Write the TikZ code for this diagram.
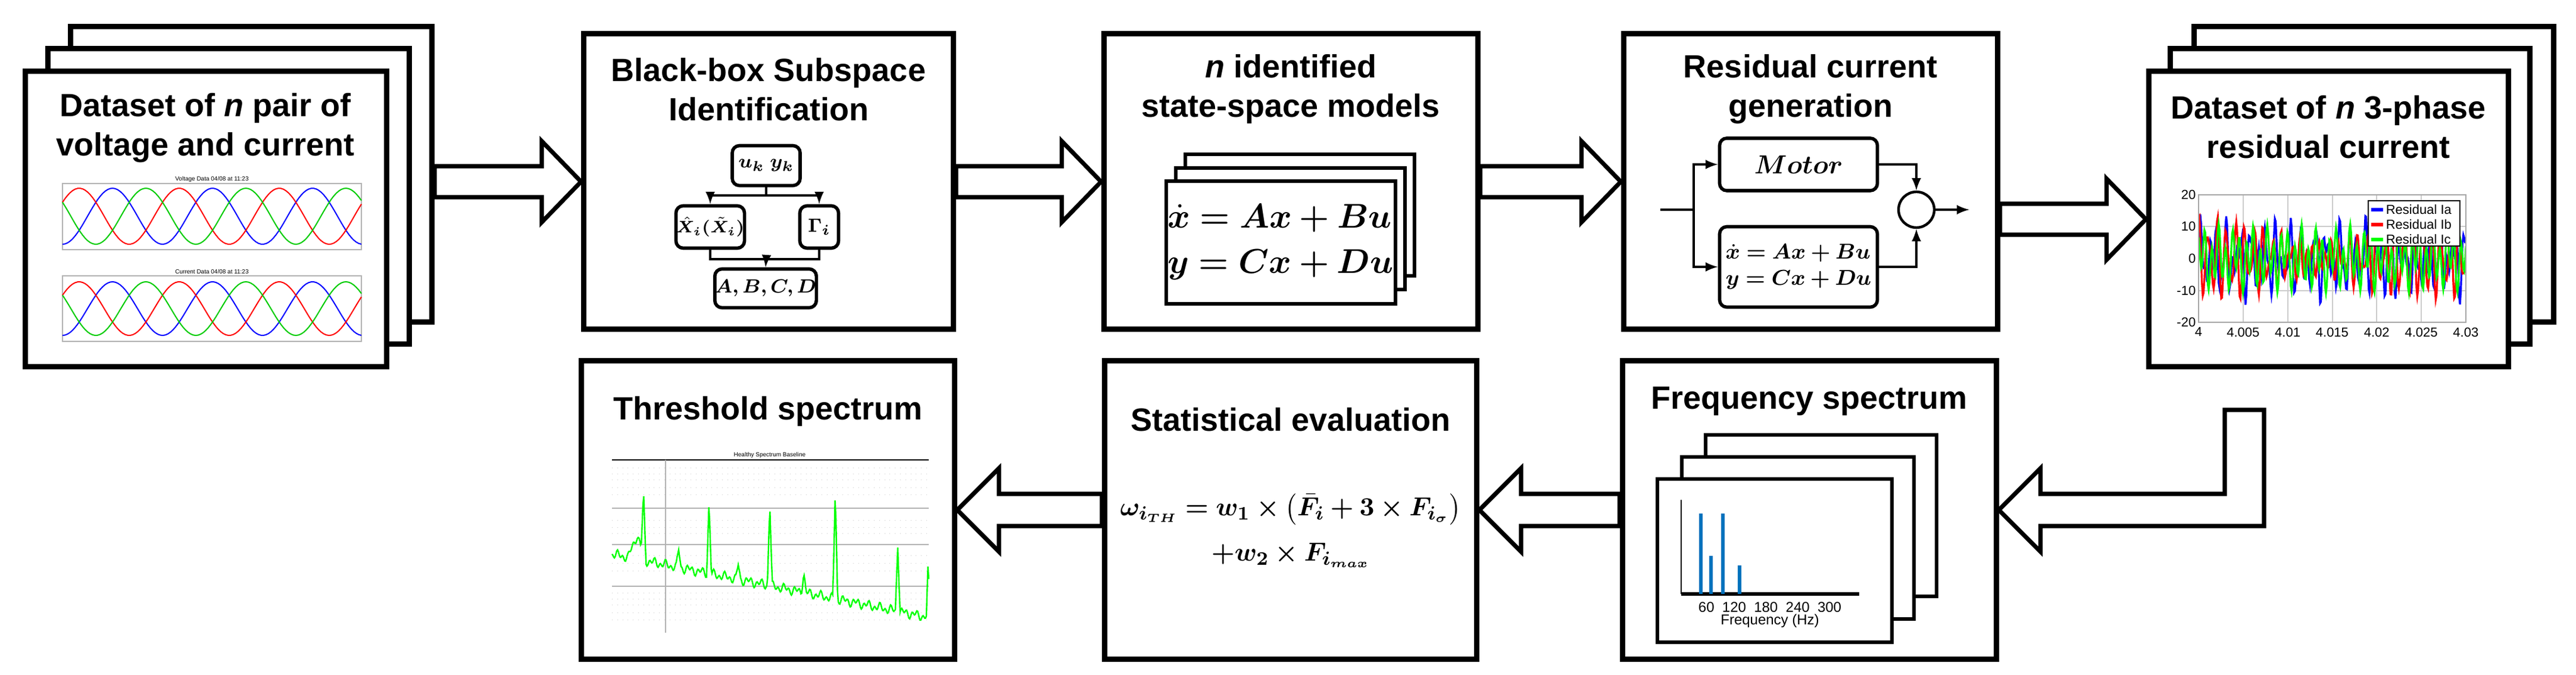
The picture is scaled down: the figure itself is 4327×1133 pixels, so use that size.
\documentclass[tikz,border=0pt]{standalone}
\usepackage{fontspec}
\usepackage{amsmath,bm}
\setmainfont{Liberation Sans}
\usetikzlibrary{calc}
\newcommand\rarrow[2]{\draw[blk] let \p1=(#1), \p2=(#2) in (\x1,\y2+6.5pt) -- (\x2-16.5pt,\y2+6.5pt) -- (\x2-16.5pt,\y2+17pt) -- (\x2,\y2) -- (\x2-16.5pt,\y2-17pt) -- (\x2-16.5pt,\y2-6.5pt) -- (\x1,\y2-6.5pt) -- cycle;}
\newcommand\larrow[2]{\draw[blk] let \p1=(#1), \p2=(#2) in (\x1,\y2+6.75pt) -- (\x2+17.5pt,\y2+6.75pt) -- (\x2+17.5pt,\y2+17.5pt) -- (\x2,\y2) -- (\x2+17.5pt,\y2-17.5pt) -- (\x2+17.5pt,\y2-6.75pt) -- (\x1,\y2-6.75pt) -- cycle;}
\tikzset{
  x=0.25pt,y=-0.25pt,
  box/.style={draw,line width=2.25pt,fill=white,minimum width={#1*0.25pt},inner sep=0pt},
  box/.default=627,
  sheet/.style={draw,line width=2.25pt,fill=white,minimum width={#1*0.25pt},minimum height=124pt,inner sep=0pt},
  blk/.style={draw,line width=1.8pt,fill=white,line join=miter},
  ttl/.style={font=\bfseries\fontsize{13.5}{16.5}\selectfont,align=center},
  rnd/.style={draw,line width=1.4pt,rounded corners=3pt,fill=white,inner sep=0pt},
  con/.style={line width=0.8pt},
  arr/.style={con,-latex},
  tick/.style={font=\fontsize{5.5}{6}\selectfont,inner sep=1pt},
  small/.style={draw,line width=1.5pt,fill=white,inner sep=0pt},
}
\begin{document}
\begin{tikzpicture}
\useasboundingbox (0,0) rectangle (4327,1133);
% ---------- Box 1 stack
\node[sheet=607] (d1c) at (422,293) {};
\node[sheet=607] (d1b) at (384,330) {};
\node[sheet=607] (d1) at (346,368) {};
\node[ttl] (t1) at (345,215) {Dataset of \textit{n} pair of\\voltage and current};
% voltage plot
\draw[gray!60,line width=0.3pt] (105,308) rectangle (607,419);
\draw[blue,line width=0.5pt] plot[domain=0:502,samples=120] (105+\x,{363-47*sin(\x/168*360-90)});
\draw[red,line width=0.5pt] plot[domain=0:502,samples=120] (105+\x,{363-47*sin(\x/168*360+30)});
\draw[green!80!black,line width=0.5pt] plot[domain=0:502,samples=120] (105+\x,{363-47*sin(\x/168*360+150)});
\node[font=\fontsize{2.5}{3}\selectfont,inner sep=0] (vt) at (356,301) {Voltage Data 04/08 at 11:23};
% current plot
\draw[gray!60,line width=0.3pt] (105,463) rectangle (607,573);
\draw[blue,line width=0.5pt] plot[domain=0:502,samples=120] (105+\x,{518-45*sin(\x/168*360-90)});
\draw[red,line width=0.5pt] plot[domain=0:502,samples=120] (105+\x,{518-45*sin(\x/168*360+30)});
\draw[green!80!black,line width=0.5pt] plot[domain=0:502,samples=120] (105+\x,{518-45*sin(\x/168*360+150)});
\node[font=\fontsize{2.5}{3}\selectfont,inner sep=0] (ct) at (356,456) {Current Data 04/08 at 11:23};
% ---------- Box 2
\node[box=621,minimum height=124pt] (b2) at (1291,305) {};
\node[ttl] (t2) at (1291,150) {Black-box Subspace\\Identification};
\node[rnd,minimum width=28.5pt,minimum height=16.75pt,font=\fontsize{8.5}{10}\selectfont] (uk) at (1287,278) {$\bm{u_k\ y_k}$};
\node[rnd,minimum width=27.75pt,minimum height=17.75pt,font=\fontsize{7}{8}\selectfont] (xh) at (1193,381) {$\bm{\hat{X}_i(\tilde{X}_i)}$};
\node[rnd,minimum width=16.25pt,minimum height=17.75pt,font=\fontsize{8.5}{10}\selectfont] (gm) at (1376,381) {$\bm{\Gamma_i}$};
\node[rnd,minimum width=36pt,minimum height=16.25pt,font=\fontsize{8}{10}\selectfont] (ab) at (1286,484) {$\bm{A,B,C,D}$};
\coordinate (j1) at (1287,328);
\coordinate (j2) at (1287,435);
\draw[con] (uk.south) -- (j1);
\draw[arr] (j1) -| (xh.north);
\draw[arr] (j1) -| (gm.north);
\draw[con] (xh.south) |- (j2);
\draw[con] (gm.south) |- (j2);
\draw[arr] (j2) -- (ab.north);
% ---------- Box 3
\node[box=628,minimum height=124pt] (b3) at (2168,305) {};
\node[ttl] (t3) at (2168,150) {\textit{n} identified\\state-space models};
\node[small,minimum width=96.25pt,minimum height=51pt] (m3) at (2183,361) {};
\node[small,minimum width=96.25pt,minimum height=51pt] (m2) at (2167,384) {};
\node[small,minimum width=96.25pt,minimum height=51.5pt] (m1) at (2151,407) {};
\node[font=\fontsize{14}{17}\selectfont] (eq3) at (2151,407) {$\begin{array}{@{}l@{}}\bm{\dot{x}=Ax+Bu}\\[2pt]\bm{y=Cx+Du}\end{array}$};
% ---------- Box 4
\node[box=628,minimum height=124pt] (b4) at (3041,305) {};
\node[ttl] (t4) at (3041,150) {Residual current\\generation};
\node[rnd,minimum width=66.25pt,minimum height=22pt] (mot) at (3021,276) {\fontsize{11}{13}\selectfont$\bm{Motor}$};
\node[rnd,minimum width=66.25pt,minimum height=33.75pt,font=\fontsize{9.5}{11}\selectfont] (ss) at (3021,448) {$\begin{array}{@{}l@{}}\bm{\dot{x}=Ax+Bu}\\\bm{y=Cx+Du}\end{array}$};
\node[circle,draw,line width=1.1pt,minimum size=15pt,inner sep=0] (sum) at (3219,352) {};
\coordinate (in) at (2789,352);
\coordinate (jn) at (2845,352);
\draw[con] (in) -- (jn);
\draw[arr] (jn) |- (mot.west);
\draw[arr] (jn) |- (ss.west);
\draw[arr] (mot.east) -| (sum.north);
\draw[arr] (ss.east) -| (sum.south);
\coordinate (out) at (3308,352);
\draw[arr] (sum.east) -- (out);
% ---------- Box 5 stack
\node[sheet=604] (d5c) at (3987,293) {};
\node[sheet=604] (d5b) at (3947,330) {};
\node[sheet=604] (d5) at (3911,368) {};
\node[ttl] (t5) at (3911,213) {Dataset of \textit{n} 3-phase\\residual current};
\foreach \xx in {3768,3843,3918,3992,4067} \draw[gray!40,line width=0.3pt] (\xx,327) -- (\xx,541);
\foreach \yy in {380,434,488} \draw[gray!40,line width=0.3pt] (3693,\yy) -- (4142,\yy);
\begin{scope}
\clip (3693,327) rectangle (4142,541);
\draw[blue,line width=0.8pt] plot[domain=0:449,samples=320] (3693+\x,{434-5.3*(9*sin(33*\x)*cos(7*\x)+6*sin(17*\x+20))});
\draw[red,line width=0.8pt] plot[domain=0:449,samples=320] (3693+\x,{434-5.3*(8*sin(29*\x+60)*cos(5*\x)+6*sin(23*\x+80))});
\draw[green,line width=0.8pt] plot[domain=0:449,samples=320] (3693+\x,{434-5.3*(7*sin(31*\x+120)+4*sin(13*\x+10))});
\end{scope}
\draw[gray!70,line width=0.4pt] (3693,327) rectangle (4142,541);
\foreach \v/\yy in {20/327,10/380,0/434,-10/488,-20/541} \node[tick,anchor=east] at (3693,\yy) {\v};
\foreach \v [count=\i from 0] in {4,4.005,4.01,4.015,4.02,4.025,4.03} \node[tick,anchor=north] at ({3693+74.8*\i},545) {\v};
\node[draw,fill=white,line width=0.4pt,minimum width=38.5pt,minimum height=19pt,inner sep=0] (lg) at (4055,375) {};
\foreach \c/\t [count=\i from 0] in {blue/Ia,red/Ib,green/Ic}{
  \draw[\c,line width=1.5pt] (3983,{352+25*\i}) -- (4003,{352+25*\i});
  \node[tick,anchor=west] at (4003,{352+25*\i}) {Residual \t};
}
% ---------- Bottom row
\node[box=627,minimum height=125pt] (thr) at (1290,856) {};
\node[ttl] (t6) at (1290,691) {Threshold spectrum};
\node[box=625,minimum height=125pt] (st) at (2168,856) {};
\node[ttl] (t7) at (2168,704) {Statistical evaluation};
\node[font=\fontsize{11}{13}\selectfont] (eq7) at (2168,893) {$\begin{array}{c}\bm{\omega_{i_{TH}}=w_1\times\left(\bar{F}_i+3\times F_{i_\sigma}\right)}\\[6pt]\bm{+w_2\times F_{i_{max}}}\end{array}$};
\node[box=628,minimum height=125pt] (fr) at (3039,856) {};
\node[ttl] (t8) at (3039,674) {Frequency spectrum};
% threshold plot
\node[font=\fontsize{2.5}{3}\selectfont,inner sep=0] (ht) at (1293,764) {Healthy Spectrum Baseline};
\draw[black,line width=0.5pt] (1028,772) -- (1560,772);
\foreach \yy in {853,914,984} \draw[gray!60,line width=0.3pt] (1028,\yy) -- (1560,\yy);
\foreach \yy in {785,795,805,818,830,873,885,895,932,945,958,995,1005,1015,1028,1040} \draw[gray!40,line width=0.2pt,dotted] (1028,\yy) -- (1560,\yy);
\draw[gray!60,line width=0.3pt] (1118,772) -- (1118,1062);
\draw[green,line width=0.6pt] plot[domain=0:532,samples=400] (1028+\x,{930+0.2*\x+9*sin(29*\x)*sin(11*\x)
  -100*max(0,1-abs(\x-53)/4)-40*max(0,1-abs(\x-42)/15)
  -120*max(0,1-abs(\x-163)/4)-140*max(0,1-abs(\x-265)/4)
  -183*max(0,1-abs(\x-375)/4)-114*max(0,1-abs(\x-480)/4)-86*max(0,1-abs(\x-531)/3)
  -30*max(0,1-abs(\x-112)/4)-35*max(0,1-abs(\x-322)/4)-25*max(0,1-abs(\x-212)/4)});
% freq inner stack
\node[small,minimum width=97pt,minimum height=67.75pt] (f3) at (3059,865) {};
\node[small,minimum width=97.5pt,minimum height=68pt] (f2) at (3020,903) {};
\node[small,minimum width=98.5pt,minimum height=68.5pt] (f1) at (2981,941) {};
\draw[line width=0.4pt] (2824,839) -- (2824,997);
\draw[line width=1.4pt] (2824,997) -- (3123,997);
\foreach \xx/\yy in {2857/862,2874/933,2894/862,2922/949} \draw[color={rgb,255:red,0;green,114;blue,189},line width=1.3pt] (\xx,997) -- (\xx,\yy);
\node[tick,font=\fontsize{6}{7}\selectfont] (fx) at (2973,1019) {60\ \ 120\ \ 180\ \ 240\ \ 300};
\node[tick,font=\fontsize{6}{7}\selectfont] (fl) at (2973,1042) {Frequency (Hz)};
% ---------- Block arrows
\rarrow{d1c.east}{b2.west}
\rarrow{b2.east}{b3.west}
\rarrow{b3.east}{b4.west}
\rarrow{b4.east}{d5.west}
\larrow{fr.west}{st.east}
\larrow{st.west}{thr.east}
\coordinate (elb) at (3770,688);
\draw[blk] let \p1=(elb), \p2=(fr.east) in (\x1+8.25pt,\y1) -- (\x1+8.25pt,\y2-6.75pt) -- (\x2+17.5pt,\y2-6.75pt) -- (\x2+17.5pt,\y2-17.5pt) -- (\x2,\y2) -- (\x2+17.5pt,\y2+17.5pt) -- (\x2+17.5pt,\y2+6.75pt) -- (\x1-8.25pt,\y2+6.75pt) -- (\x1-8.25pt,\y1) -- cycle;
\end{tikzpicture}
\end{document}
